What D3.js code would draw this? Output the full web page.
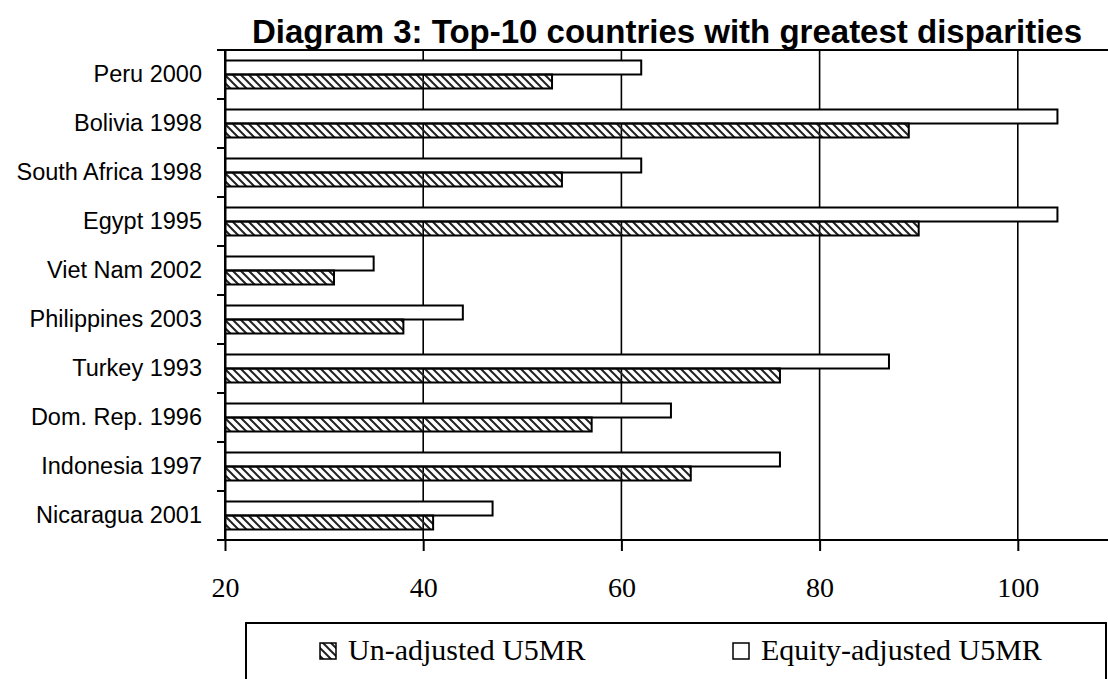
<!DOCTYPE html>
<html>
<head>
<meta charset="utf-8">
<script src="https://cdn.jsdelivr.net/npm/d3@7"></script>
<style>
  body { margin: 0; background: #fff; }
  svg { display: block; }
</style>
</head>
<body>
<svg id="chart"></svg>
<script>
// dữ liệu
const countries = ["Peru 2000", "Bolivia 1998", "South Africa 1998", "Egypt 1995", "Viet Nam 2002",
  "Philippines 2003", "Turkey 1993", "Dom. Rep. 1996", "Indonesia 1997", "Nicaragua 2001"];
const seriesNames = ["Equity-adjusted U5MR", "Un-adjusted U5MR"];
const equityAdjusted = [62, 104, 62, 104, 35, 44, 87, 65, 76, 47];
const unAdjusted = [53, 89, 54, 90, 31, 38, 76, 57, 67, 41];
const xTicks = [20, 40, 60, 80, 100];
const legendOrder = ["Un-adjusted U5MR", "Equity-adjusted U5MR"];

(() => {
const width = 1108;
const height = 679;
const plot = { left: 225, top: 50, bottom: 540 };

const svg = d3.select("#chart")
  .attr("width", width)
  .attr("height", height);

// pattern gạch chéo
const defs = svg.append("defs");
defs.append("pattern")
  .attr("id", "hatch")
  .attr("patternUnits", "userSpaceOnUse")
  .attr("width", 8)
  .attr("height", 8)
  .append("path")
  .attr("d", "M-2,6 l4,4 M0,0 l8,8 M6,-2 l4,4")
  .attr("stroke", "#222")
  .attr("stroke-width", 2);

const fillOf = { "Equity-adjusted U5MR": "#fff", "Un-adjusted U5MR": "url(#hatch)" };

// scales
const x = d3.scaleLinear().domain([20, 120]).range([plot.left, plot.left + 100 * 9.91]);
const y0 = d3.scaleBand().domain(countries).range([plot.top, plot.bottom]).padding(0);
const y1 = d3.scaleBand().domain(seriesNames).range([0, y0.bandwidth()]).paddingInner(0).paddingOuter(0.75);

const rows = countries.map((c, i) => ({
  country: c,
  values: [
    { key: "Equity-adjusted U5MR", value: equityAdjusted[i] },
    { key: "Un-adjusted U5MR", value: unAdjusted[i] }
  ]
}));

// khung vùng vẽ
svg.append("rect")
  .attr("x", x(20))
  .attr("y", plot.top)
  .attr("width", x(120) - x(20))
  .attr("height", plot.bottom - plot.top)
  .attr("fill", "none")
  .attr("stroke", "#000")
  .attr("stroke-width", 2);

// đường lưới dọc
svg.append("g")
  .selectAll("line")
  .data(xTicks.slice(1))
  .join("line")
  .attr("x1", d => x(d))
  .attr("x2", d => x(d))
  .attr("y1", plot.top)
  .attr("y2", plot.bottom)
  .attr("stroke", "#000")
  .attr("stroke-width", 1.6);

// các cột
svg.append("g")
  .selectAll("g")
  .data(rows)
  .join("g")
  .attr("transform", d => `translate(0,${y0(d.country)})`)
  .selectAll("rect")
  .data(d => d.values)
  .join("rect")
  .attr("x", x(20))
  .attr("y", d => y1(d.key))
  .attr("width", d => x(d.value) - x(20))
  .attr("height", y1.bandwidth())
  .attr("fill", d => fillOf[d.key])
  .attr("stroke", "#000")
  .attr("stroke-width", 2);

// trục x
const xAxis = svg.append("g")
  .attr("transform", `translate(0,${plot.bottom})`)
  .call(d3.axisBottom(x).tickValues(xTicks).tickSize(11).tickPadding(26).tickFormat(d3.format("d")));
xAxis.select(".domain").remove();
xAxis.selectAll(".tick line").attr("stroke", "#000").attr("stroke-width", 2);
xAxis.selectAll(".tick text")
  .attr("fill", "#000")
  .style("font-family", "'Liberation Serif', 'Times New Roman', serif")
  .style("font-size", "28px");
svg.append("line")
  .attr("x1", plot.left - 8).attr("x2", width)
  .attr("y1", plot.bottom).attr("y2", plot.bottom)
  .attr("stroke", "#000").attr("stroke-width", 2);

// trục y
const yAxis = svg.append("g")
  .attr("transform", `translate(${plot.left},0)`)
  .call(d3.axisLeft(y0).tickSize(0).tickPadding(23));
yAxis.select(".domain").attr("stroke", "#000").attr("stroke-width", 2);
yAxis.selectAll(".tick text")
  .attr("fill", "#000")
  .style("font-family", "'Liberation Sans', Arial, sans-serif")
  .style("font-size", "23.5px");

// vạch chia giữa các nhóm
const boundaries = countries.map(c => y0(c)).concat([plot.bottom]);
svg.append("g")
  .selectAll("line")
  .data(boundaries)
  .join("line")
  .attr("x1", plot.left - 8)
  .attr("x2", plot.left)
  .attr("y1", d => d)
  .attr("y2", d => d)
  .attr("stroke", "#000")
  .attr("stroke-width", 2);

// tiêu đề
svg.append("text")
  .attr("x", 667)
  .attr("y", 43)
  .attr("text-anchor", "middle")
  .style("font-family", "'Liberation Sans', Arial, sans-serif")
  .style("font-weight", "bold")
  .style("font-size", "33px")
  .text("Diagram 3: Top-10 countries with greatest disparities");

// chú thích
svg.append("rect")
  .attr("x", 246)
  .attr("y", 623)
  .attr("width", 860)
  .attr("height", 80)
  .attr("fill", "#fff")
  .attr("stroke", "#000")
  .attr("stroke-width", 2);

const legendX = [320, 733];
const legend = svg.append("g")
  .selectAll("g")
  .data(legendOrder)
  .join("g")
  .attr("transform", (d, i) => `translate(${legendX[i]},0)`);

legend.append("rect")
  .attr("x", 0)
  .attr("y", 643)
  .attr("width", 16)
  .attr("height", 16)
  .attr("fill", d => fillOf[d])
  .attr("stroke", "#000")
  .attr("stroke-width", 1.5);

legend.append("text")
  .attr("x", 28)
  .attr("y", 660)
  .style("font-family", "'Liberation Serif', 'Times New Roman', serif")
  .style("font-size", "30px")
  .text(d => d);
})();
</script>
</body>
</html>
